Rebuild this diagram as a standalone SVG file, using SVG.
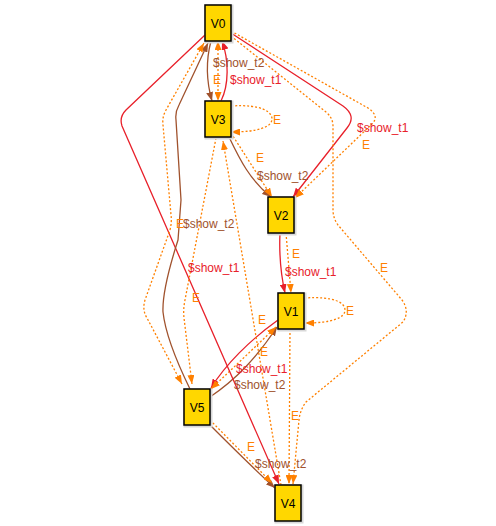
<svg xmlns="http://www.w3.org/2000/svg" width="496" height="526" viewBox="0 0 496 526">
<defs>
<style>
.n rect.b{fill:#FFD700;stroke:#000;stroke-width:1.5}
.n rect.s{fill:none;stroke:#d8d8d8;stroke-width:3}
.n text{font-family:"Liberation Sans",Arial,sans-serif;font-size:12px;fill:#000;text-anchor:middle}
.e path{fill:none;stroke-width:1.3}
.r{stroke:#E8202A}
.br{stroke:#A0522D}
.o{stroke:#FF8000;stroke-dasharray:2,2;stroke-width:1.5}
.lab text{font-family:"Liberation Sans",Arial,sans-serif;font-size:12px}
.tr{fill:#E8202A}
.tb{fill:#A0522D}
.to{fill:#FF8000}
</style>
<marker id="mr" markerUnits="userSpaceOnUse" markerWidth="9" markerHeight="7" refX="9" refY="3.5" orient="auto-start-reverse"><path d="M0,0 L9,3.5 L0,7 z" fill="#E8202A"/></marker>
<marker id="mb" markerUnits="userSpaceOnUse" markerWidth="9" markerHeight="7" refX="9" refY="3.5" orient="auto-start-reverse"><path d="M0,0 L9,3.5 L0,7 z" fill="#A0522D"/></marker>
<marker id="mo" markerUnits="userSpaceOnUse" markerWidth="9" markerHeight="7" refX="9" refY="3.5" orient="auto-start-reverse"><path d="M0,0 L9,3.5 L0,7 z" fill="#FF8000"/></marker>
</defs>
<rect width="496" height="526" fill="#fff"/>
<g id="edges" class="e">
<path class="br" d="M211,41 C206,60 206,80 212,101" marker-end="url(#mb)"/>
<path class="r" d="M221,101 C229,85 229,60 222,41" marker-end="url(#mr)"/>
<path class="o" d="M218,41 L218,101" marker-start="url(#mo)" marker-end="url(#mo)"/>
<path class="o" d="M231,106 C262,104 272,112 272,119 C272,127 258,132 231,132" marker-end="url(#mo)"/>
<path class="br" d="M229,137 C240,160 250,180 271,197" marker-end="url(#mb)"/>
<path class="o" d="M231,133 L272,197" marker-end="url(#mo)"/>
<path class="r" d="M231,33 L343,106 Q357,116 347,128 L293,197" marker-end="url(#mr)"/>
<path class="o" d="M231,31 L368,108 Q380,116 372,124 L295,198" marker-end="url(#mo)"/>
<path class="o" d="M231,36 L326,112 Q333,118 333,126 L333,210 Q333,218 338,225 L402,300 Q410,311 403,322 L306,402 Q300,410 299,420 L293,484" marker-end="url(#mo)"/>
<path class="r" d="M280,233 C279,255 281,275 285,293" marker-end="url(#mr)"/>
<path class="o" d="M286,233 L291,293" marker-end="url(#mo)"/>
<path class="o" d="M304,298 C335,296 345,303 345,310 C345,318 332,323 305,323" marker-end="url(#mo)"/>
<path class="r" d="M278,320 C250,340 225,365 211,388" marker-end="url(#mr)"/>
<path class="br" d="M210,397 C235,380 255,360 277,327" marker-end="url(#mb)"/>
<path class="o" d="M276,327 L211,389" marker-start="url(#mo)" marker-end="url(#mo)"/>
<path class="br" d="M210,425 C235,450 255,470 275,488" marker-end="url(#mb)"/>
<path class="o" d="M210,420 L272,483" marker-end="url(#mo)"/>
<path class="r" d="M205,35 L126,110 Q119,117 122,126 L279,484" marker-end="url(#mr)"/>
<path class="br" d="M190,389 Q166,340 163,312 Q162,290 178,240 L181,200 L176,120 Q175,112 179,105 L208,43" marker-end="url(#mb)"/>
<path class="o" d="M204,43 L166,110 Q162,117 163,125 L171,215 Q172,222 170,230 L145,300 Q142,310 147,318 L182,384" marker-start="url(#mo)" marker-end="url(#mo)"/>
<path class="o" d="M216,138 L185,300 Q183,310 184,318 L192,384" marker-end="url(#mo)"/>
<path class="o" d="M281,485 L223,141" marker-end="url(#mo)"/>
<path class="o" d="M290,329 L289,484" marker-end="url(#mo)"/>
</g>
<g id="labels" class="lab">
<text class="tb" x="213" y="67">$show_t2</text>
<text class="to" x="213" y="84">E</text>
<text class="tr" x="230" y="84">$show_t1</text>
<text class="to" x="273" y="124">E</text>
<text class="to" x="256" y="162">E</text>
<text class="tb" x="257" y="180">$show_t2</text>
<text class="tr" x="357" y="132">$show_t1</text>
<text class="to" x="362" y="149">E</text>
<text class="to" x="380" y="272">E</text>
<text class="to" x="176" y="227.5">E</text>
<text class="tb" x="183" y="227.5">$show_t2</text>
<text class="tr" x="188" y="271.5">$show_t1</text>
<text class="to" x="192" y="302">E</text>
<text class="to" x="292" y="258">E</text>
<text class="tr" x="285" y="276">$show_t1</text>
<text class="to" x="346" y="315">E</text>
<text class="to" x="258" y="324">E</text>
<text class="to" x="260" y="356">E</text>
<text class="tr" x="236" y="372.5">$show_t1</text>
<text class="tb" x="234" y="389">$show_t2</text>
<text class="to" x="291" y="420">E</text>
<text class="to" x="247" y="451">E</text>
<text class="tb" x="255" y="467.5">$show_t2</text>
</g>
<g id="V0" class="n"><rect class="s" x="206" y="6" width="26" height="36"/><rect class="b" x="205" y="5" width="26" height="36"/><text x="218" y="27.5">V0</text></g>
<g id="V3" class="n"><rect class="s" x="206" y="102" width="26" height="36"/><rect class="b" x="205" y="101" width="26" height="36"/><text x="218" y="123.5">V3</text></g>
<g id="V2" class="n"><rect class="s" x="269" y="198" width="26" height="36"/><rect class="b" x="268" y="197" width="26" height="36"/><text x="281" y="219.5">V2</text></g>
<g id="V1" class="n"><rect class="s" x="279" y="294" width="26" height="36"/><rect class="b" x="278" y="293" width="26" height="36"/><text x="291" y="315.5">V1</text></g>
<g id="V5" class="n"><rect class="s" x="185" y="390" width="26" height="36"/><rect class="b" x="184" y="389" width="26" height="36"/><text x="197" y="411.5">V5</text></g>
<g id="V4" class="n"><rect class="s" x="276" y="486" width="26" height="36"/><rect class="b" x="275" y="485" width="26" height="36"/><text x="288" y="507.5">V4</text></g>
</svg>
